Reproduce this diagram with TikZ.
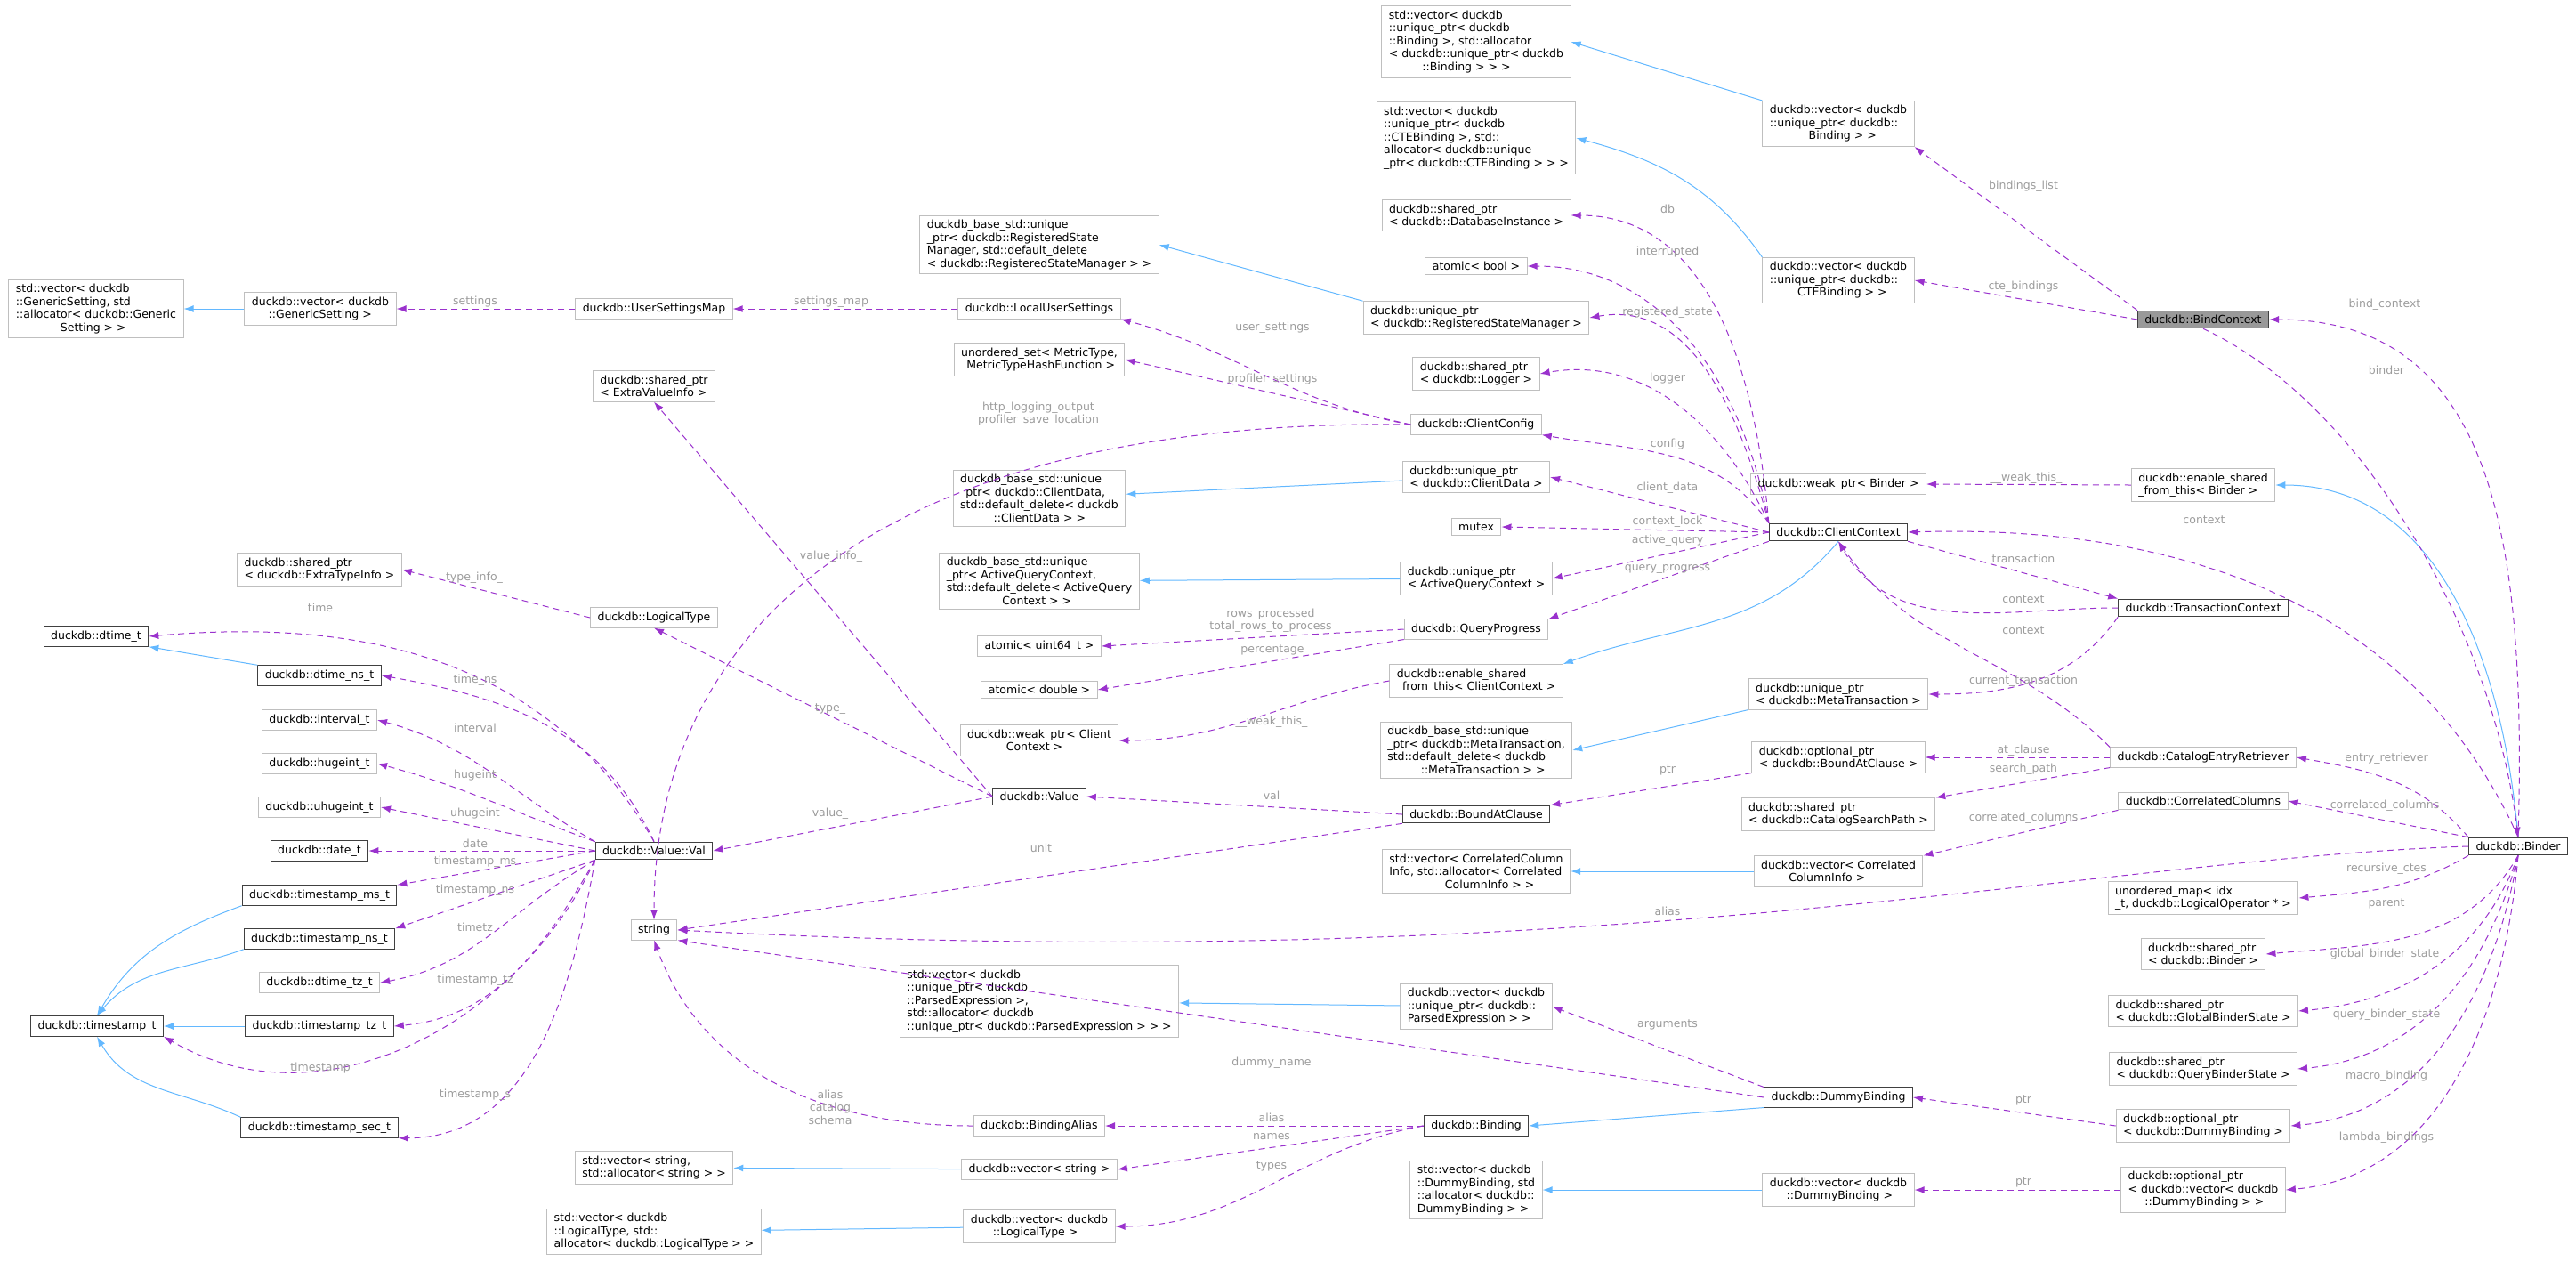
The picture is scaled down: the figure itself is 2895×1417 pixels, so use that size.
\documentclass[tikz,border=0pt]{standalone}
\usepackage{fontspec}
\setmainfont{DejaVu Sans}
\usetikzlibrary{arrows.meta}
\definecolor{refcol}{HTML}{9A32CD}
\definecolor{inhcol}{HTML}{63B8FF}
\definecolor{lblcol}{HTML}{9C9C9C}
\definecolor{boxcol}{HTML}{BFBFBF}
\definecolor{darkcol}{HTML}{404040}
\begin{document}
\begin{tikzpicture}[x=1pt,y=-1pt,
    font=\fontsize{12.5}{14.5}\selectfont,
    box/.style = {draw=boxcol,line width=1pt,fill=white,align=left,inner xsep=8pt,inner ysep=5pt},
    dbox/.style = {box,draw=darkcol},
    ref/.style = {draw=refcol,line width=1pt,dash pattern=on 7pt off 5pt,-{Latex[length=11pt,width=8pt]}},
    inh/.style = {draw=inhcol,line width=1pt,-{Latex[length=11pt,width=8pt]}},
    lbl/.style = {text=lblcol,align=center,inner sep=1pt}]
\useasboundingbox (0,0) rectangle (2895,1417);

% column 1
\node[box] (stdvecGS) at (108,347) {std::vector< duckdb\\::GenericSetting, std\\::allocator< duckdb::Generic\\\hspace*{4em}Setting > >};
\node[dbox] (dtime) at (108,715) {duckdb::dtime\_t};
\node[dbox] (tstamp) at (109,1153) {duckdb::timestamp\_t};

% column 2
\node[box] (vecGS) at (360,347) {duckdb::vector< duckdb\\\hspace*{1.5em}::GenericSetting >};
\node[box] (sharedETI) at (359,640) {duckdb::shared\_ptr\\< duckdb::ExtraTypeInfo >};
\node[dbox] (dtimens) at (359,759) {duckdb::dtime\_ns\_t};
\node[box] (interval) at (359,809) {duckdb::interval\_t};
\node[box] (hugeint) at (359,858) {duckdb::hugeint\_t};
\node[box] (uhugeint) at (359,907) {duckdb::uhugeint\_t};
\node[dbox] (date) at (359,956) {duckdb::date\_t};
\node[dbox] (tsms) at (359,1006) {duckdb::timestamp\_ms\_t};
\node[dbox] (tsns) at (359,1055) {duckdb::timestamp\_ns\_t};
\node[box] (dtimetz) at (359,1104) {duckdb::dtime\_tz\_t};
\node[dbox] (tstz) at (359,1153) {duckdb::timestamp\_tz\_t};
\node[dbox] (tssec) at (359,1267) {duckdb::timestamp\_sec\_t};

% column 3
\node[box] (userMap) at (735,347) {duckdb::UserSettingsMap};
\node[box] (sharedEVI) at (735,434) {duckdb::shared\_ptr\\< ExtraValueInfo >};
\node[box] (logType) at (735,694) {duckdb::LogicalType};
\node[dbox] (valVal) at (735,956) {duckdb::Value::Val};
\node[box] (string) at (735,1045) {string};
\node[box] (stdvecStr) at (735,1312) {std::vector< string,\\ std::allocator< string > >};
\node[box] (stdvecLT) at (735,1384) {std::vector< duckdb\\::LogicalType, std::\\allocator< duckdb::LogicalType > >};

% column 4
\node[box] (baseRSM) at (1168,275) {duckdb\_base\_std::unique\\\_ptr< duckdb::RegisteredState\\Manager, std::default\_delete\\< duckdb::RegisteredStateManager > >};
\node[box] (localUS) at (1168,347) {duckdb::LocalUserSettings};
\node[box] (unordSet) at (1168,404) {unordered\_set< MetricType,\\\hspace*{0.5em}MetricTypeHashFunction >};
\node[box] (baseCD) at (1168,560) {duckdb\_base\_std::unique\\\_ptr< duckdb::ClientData,\\ std::default\_delete< duckdb\\\hspace*{3em}::ClientData > >};
\node[box] (baseAQC) at (1168,653) {duckdb\_base\_std::unique\\\_ptr< ActiveQueryContext,\\ std::default\_delete< ActiveQuery\\\hspace*{5em}Context > >};
\node[box] (atomU64) at (1168,726) {atomic< uint64\_t >};
\node[box] (atomDbl) at (1168,775) {atomic< double >};
\node[box] (weakCC) at (1168,832) {duckdb::weak\_ptr< Client\\\hspace*{3.5em}Context >};
\node[dbox] (value) at (1168,895) {duckdb::Value};
\node[box] (stdvecPE) at (1168,1125) {std::vector< duckdb\\::unique\_ptr< duckdb\\::ParsedExpression >,\\ std::allocator< duckdb\\::unique\_ptr< duckdb::ParsedExpression > > >};
\node[box] (bindAlias) at (1168,1265) {duckdb::BindingAlias};
\node[box] (vecStr) at (1168,1314) {duckdb::vector< string >};
\node[box] (vecLT) at (1168,1378) {duckdb::vector< duckdb\\\hspace*{2em}::LogicalType >};

% column 5
\node[box] (stdvecBind) at (1659,47) {std::vector< duckdb\\::unique\_ptr< duckdb\\::Binding >, std::allocator\\< duckdb::unique\_ptr< duckdb\\\hspace*{3em}::Binding > > >};
\node[box] (stdvecCTE) at (1659,155) {std::vector< duckdb\\::unique\_ptr< duckdb\\::CTEBinding >, std::\\allocator< duckdb::unique\\\_ptr< duckdb::CTEBinding > > >};
\node[box] (sharedDB) at (1659,242) {duckdb::shared\_ptr\\< duckdb::DatabaseInstance >};
\node[box] (atomBool) at (1659,299) {atomic< bool >};
\node[box] (uniqRSM) at (1659,357) {duckdb::unique\_ptr\\< duckdb::RegisteredStateManager >};
\node[box] (sharedLog) at (1659,420) {duckdb::shared\_ptr\\< duckdb::Logger >};
\node[box] (clientCfg) at (1659,477) {duckdb::ClientConfig};
\node[box] (uniqCD) at (1659,536) {duckdb::unique\_ptr\\< duckdb::ClientData >};
\node[box] (mutex) at (1659,592) {mutex};
\node[box] (uniqAQC) at (1659,650) {duckdb::unique\_ptr\\< ActiveQueryContext >};
\node[box] (queryProg) at (1659,707) {duckdb::QueryProgress};
\node[box] (enableCC) at (1659,765) {duckdb::enable\_shared\\\_from\_this< ClientContext >};
\node[box] (baseMT) at (1659,843) {duckdb\_base\_std::unique\\\_ptr< duckdb::MetaTransaction,\\ std::default\_delete< duckdb\\\hspace*{3em}::MetaTransaction > >};
\node[dbox] (boundAt) at (1659,915) {duckdb::BoundAtClause};
\node[box] (stdvecCC) at (1659,979) {std::vector< CorrelatedColumn\\Info, std::allocator< Correlated\\\hspace*{5em}ColumnInfo > >};
\node[box] (vecPE) at (1659,1131) {duckdb::vector< duckdb\\::unique\_ptr< duckdb::\\ ParsedExpression > >};
\node[dbox] (binding) at (1659,1265) {duckdb::Binding};
\node[box] (stdvecDB) at (1659,1337) {std::vector< duckdb\\::DummyBinding, std\\::allocator< duckdb::\\DummyBinding > >};

% column 6
\node[box] (vecBind) at (2066,139) {duckdb::vector< duckdb\\::unique\_ptr< duckdb::\\\hspace*{3.5em}Binding > >};
\node[box] (vecCTE) at (2066,315) {duckdb::vector< duckdb\\::unique\_ptr< duckdb::\\\hspace*{2.5em}CTEBinding > >};
\node[box] (weakBinder) at (2066,544) {duckdb::weak\_ptr< Binder >};
\node[dbox] (clientCtx) at (2066,598) {duckdb::ClientContext};
\node[box] (uniqMT) at (2066,780) {duckdb::unique\_ptr\\< duckdb::MetaTransaction >};
\node[box] (optBAC) at (2066,851) {duckdb::optional\_ptr\\< duckdb::BoundAtClause >};
\node[box] (sharedCSP) at (2066,915) {duckdb::shared\_ptr\\< duckdb::CatalogSearchPath >};
\node[box] (vecCC) at (2066,979) {duckdb::vector< Correlated\\\hspace*{2.5em}ColumnInfo >};
\node[dbox] (dummyBind) at (2066,1233) {duckdb::DummyBinding};
\node[box] (vecDB) at (2066,1337) {duckdb::vector< duckdb\\\hspace*{1.5em}::DummyBinding >};

% column 7
\node[box,draw=darkcol,fill=black!40] (bindCtx) at (2476,359) {duckdb::BindContext};
\node[box] (enableB) at (2476,545) {duckdb::enable\_shared\\\_from\_this< Binder >};
\node[dbox] (transCtx) at (2476,683) {duckdb::TransactionContext};
\node[box] (catRet) at (2476,851) {duckdb::CatalogEntryRetriever};
\node[box] (corrCols) at (2476,900) {duckdb::CorrelatedColumns};
\node[box] (unordMap) at (2476,1009) {unordered\_map< idx\\\_t, duckdb::LogicalOperator * >};
\node[box] (sharedB) at (2476,1072) {duckdb::shared\_ptr\\< duckdb::Binder >};
\node[box] (sharedGBS) at (2476,1136) {duckdb::shared\_ptr\\< duckdb::GlobalBinderState >};
\node[box] (sharedQBS) at (2476,1201) {duckdb::shared\_ptr\\< duckdb::QueryBinderState >};
\node[box] (optDB) at (2476,1265) {duckdb::optional\_ptr\\< duckdb::DummyBinding >};
\node[box] (optVecDB) at (2476,1337) {duckdb::optional\_ptr\\< duckdb::vector< duckdb\\\hspace*{1.5em}::DummyBinding > >};

\node[dbox] (binder) at (2830,951) {duckdb::Binder};

% inheritance
\draw[inh] (vecGS) -- (stdvecGS);
\draw[inh] (dtimens.north west) -- (dtime.south east);
\draw[inh] (tsms.south west) to[out=200,in=60] (tstamp.north);
\draw[inh] (tsns.south west) to[out=200,in=50] (tstamp.north);
\draw[inh] (tstz) -- (tstamp);
\draw[inh] (tssec.north west) to[out=155,in=-60] (tstamp.south);
\draw[inh] (vecBind.north west) -- (stdvecBind.east);
\draw[inh] (vecCTE.north west) to[out=125,in=-15] (stdvecCTE.east);
\draw[inh] (uniqRSM.north west) -- (baseRSM.east);
\draw[inh] (uniqCD) -- (baseCD);
\draw[inh] (uniqAQC) -- (baseAQC);
\draw[inh] (clientCtx.south) to[out=-130,in=20] (enableCC.north east);
\draw[inh] (uniqMT.south west) -- (baseMT.east);
\draw[inh] (vecCC) -- (stdvecCC);
\draw[inh] (vecPE) -- (stdvecPE);
\draw[inh] (dummyBind.south west) -- (binding.east);
\draw[inh] (vecStr) -- (stdvecStr);
\draw[inh] (vecLT) -- (stdvecLT);
\draw[inh] (vecDB) -- (stdvecDB);
\draw[inh] (binder.north) to[out=95,in=0] (enableB.east);

% members of Value::Val
\draw[ref] (valVal.north) to[out=120,in=5] (dtime.east) node[lbl] at (360,683) {time};
\draw[ref] (valVal.north) to[out=115,in=-10] (dtimens.east) node[lbl] at (534,764) {time\_ns};
\draw[ref] (valVal.north west) to[out=150,in=-15] (interval.east) node[lbl] at (534,818) {interval};
\draw[ref] (valVal.north west) to[out=160,in=-15] (hugeint.east) node[lbl] at (534,871) {hugeint};
\draw[ref] (valVal.west) -- (uhugeint.east) node[lbl] at (534,914) {uhugeint};
\draw[ref] (valVal) -- (date) node[lbl] at (534,948) {date};
\draw[ref] (valVal.west) -- (tsms.north east) node[lbl] at (534,968) {timestamp\_ms};
\draw[ref] (valVal.south west) -- (tsns.north east) node[lbl] at (534,1000) {timestamp\_ns};
\draw[ref] (valVal.south west) to[out=-150,in=10] (dtimetz.east) node[lbl] at (534,1042) {timetz};
\draw[ref] (valVal.south west) to[out=-120,in=5] (tstz.east) node[lbl] at (534,1101) {timestamp\_tz};
\draw[ref] (valVal.south west) to[out=-115,in=-30] (tstamp.south east) node[lbl] at (360,1200) {timestamp};
\draw[ref] (valVal.south west) to[out=-100,in=0] (tssec.south east) node[lbl] at (534,1230) {timestamp\_s};

% members of Value, LogicalType, settings
\draw[ref] (logType.west) -- (sharedETI.east) node[lbl] at (533,649) {type\_info\_};
\draw[ref] (value.west) -- (sharedEVI.south) node[lbl] at (934,625) {value\_info\_};
\draw[ref] (value.west) -- (logType.south) node[lbl] at (933,797) {type\_};
\draw[ref] (value.west) -- (valVal.east) node[lbl] at (933,914) {value\_};
\draw[ref] (userMap) -- (vecGS) node[lbl] at (534,339) {settings};
\draw[ref] (localUS) -- (userMap) node[lbl] at (934,339) {settings\_map};
\draw[ref] (clientCfg.west) to[out=170,in=-15] (localUS.south east) node[lbl] at (1430,368) {user\_settings};
\draw[ref] (clientCfg.west) -- (unordSet.east) node[lbl] at (1430,426) {profiler\_settings};
\draw[ref] (clientCfg.west) .. controls (1000,470) and (735,700) .. (string.north) node[lbl] at (1167,465) {http\_logging\_output\\profiler\_save\_location};

% members of ClientContext
\draw[ref] (clientCtx.north west) to[out=95,in=0] (sharedDB.east) node[lbl] at (1874,235) {db};
\draw[ref] (clientCtx.north west) to[out=100,in=0] (atomBool.east) node[lbl] at (1874,283) {interrupted};
\draw[ref] (clientCtx.north west) to[out=105,in=10] (uniqRSM.east) node[lbl] at (1874,351) {registered\_state};
\draw[ref] (clientCtx.north west) to[out=115,in=10] (sharedLog.east) node[lbl] at (1874,425) {logger};
\draw[ref] (clientCtx.north west) to[out=125,in=-10] (clientCfg.south east) node[lbl] at (1874,499) {config};
\draw[ref] (clientCtx.west) -- (uniqCD.east) node[lbl] at (1874,548) {client\_data};
\draw[ref] (clientCtx.west) -- (mutex.east) node[lbl] at (1874,586) {context\_lock};
\draw[ref] (clientCtx.west) -- (uniqAQC.east) node[lbl] at (1874,607) {active\_query};
\draw[ref] (clientCtx.south west) -- (queryProg.north east) node[lbl] at (1874,639) {query\_progress};
\draw[ref] (clientCtx.south east) -- (transCtx.north west) node[lbl] at (2274,628) {transaction};
\draw[ref] (queryProg.west) -- (atomU64.east) node[lbl] at (1428,697) {rows\_processed\\total\_rows\_to\_process};
\draw[ref] (queryProg.south west) -- (atomDbl.east) node[lbl] at (1430,730) {percentage};
\draw[ref] (enableCC.west) to[out=190,in=0] (weakCC.east) node[lbl] at (1429,811) {\_\_weak\_this\_};

% members of TransactionContext, CatalogEntryRetriever, BoundAtClause
\draw[ref] (transCtx.west) to[out=180,in=-60] (clientCtx.south) node[lbl] at (2274,673) {context};
\draw[ref] (transCtx.south west) to[out=-125,in=0] (uniqMT.east) node[lbl] at (2274,765) {current\_transaction};
\draw[ref] (catRet.north west) to[out=135,in=-55] (clientCtx.south) node[lbl] at (2274,708) {context};
\draw[ref] (catRet) -- (optBAC) node[lbl] at (2274,843) {at\_clause};
\draw[ref] (catRet.south west) -- (sharedCSP.north east) node[lbl] at (2274,864) {search\_path};
\draw[ref] (corrCols.south west) -- (vecCC.north east) node[lbl] at (2274,919) {correlated\_columns};
\draw[ref] (optBAC.south west) -- (boundAt.north east) node[lbl] at (1874,865) {ptr};
\draw[ref] (boundAt.west) -- (value.east) node[lbl] at (1429,894) {val};
\draw[ref] (boundAt.south west) -- (string.east) node[lbl] at (1170,953) {unit};

% members of BindContext and Binder
\draw[ref] (bindCtx.north west) -- (vecBind.south east) node[lbl] at (2274,209) {bindings\_list};
\draw[ref] (bindCtx.west) -- (vecCTE.east) node[lbl] at (2274,322) {cte\_bindings};
\draw[ref] (bindCtx.south) .. controls (2650,450) and (2800,700) .. (binder.north) node[lbl] at (2682,416) {binder};
\draw[ref] (binder.north) .. controls (2840,600) and (2800,359) .. (bindCtx.east) node[lbl] at (2680,342) {bind\_context};
\draw[ref] (enableB.west) -- (weakBinder.east) node[lbl] at (2277,537) {\_\_weak\_this\_};
\draw[ref] (binder.north) .. controls (2700,650) and (2400,590) .. (clientCtx.east) node[lbl] at (2477,584) {context};
\draw[ref] (binder.north west) to[out=130,in=-10] (catRet.east) node[lbl] at (2682,852) {entry\_retriever};
\draw[ref] (binder.north west) -- (corrCols.east) node[lbl] at (2680,905) {correlated\_columns};
\draw[ref] (binder.west) .. controls (2350,965) and (1800,1100) .. (string.east) node[lbl] at (1874,1024) {alias};
\draw[ref] (binder.south west) to[out=-150,in=5] (unordMap.east) node[lbl] at (2682,976) {recursive\_ctes};
\draw[ref] (binder.south) to[out=-120,in=5] (sharedB.east) node[lbl] at (2682,1015) {parent};
\draw[ref] (binder.south) to[out=-110,in=5] (sharedGBS.east) node[lbl] at (2680,1072) {global\_binder\_state};
\draw[ref] (binder.south) to[out=-105,in=5] (sharedQBS.east) node[lbl] at (2682,1140) {query\_binder\_state};
\draw[ref] (binder.south) to[out=-100,in=5] (optDB.east) node[lbl] at (2682,1209) {macro\_binding};
\draw[ref] (binder.south) to[out=-95,in=5] (optVecDB.east) node[lbl] at (2682,1278) {lambda\_bindings};

% members of DummyBinding and Binding
\draw[ref] (optDB.west) -- (dummyBind.east) node[lbl] at (2274,1236) {ptr};
\draw[ref] (optVecDB.west) -- (vecDB.east) node[lbl] at (2274,1328) {ptr};
\draw[ref] (dummyBind.north west) -- (vecPE.east) node[lbl] at (1874,1151) {arguments};
\draw[ref] (dummyBind.west) -- (string.south east) node[lbl] at (1429,1194) {dummy\_name};
\draw[ref] (binding.west) -- (bindAlias.east) node[lbl] at (1429,1256) {alias};
\draw[ref] (binding.west) -- (vecStr.east) node[lbl] at (1429,1277) {names};
\draw[ref] (binding.west) to[out=190,in=0] (vecLT.east) node[lbl] at (1429,1310) {types};
\draw[ref] (bindAlias.west) to[out=180,in=-70] (string.south) node[lbl] at (933,1244) {alias\\catalog\\schema};
\end{tikzpicture}
\end{document}
